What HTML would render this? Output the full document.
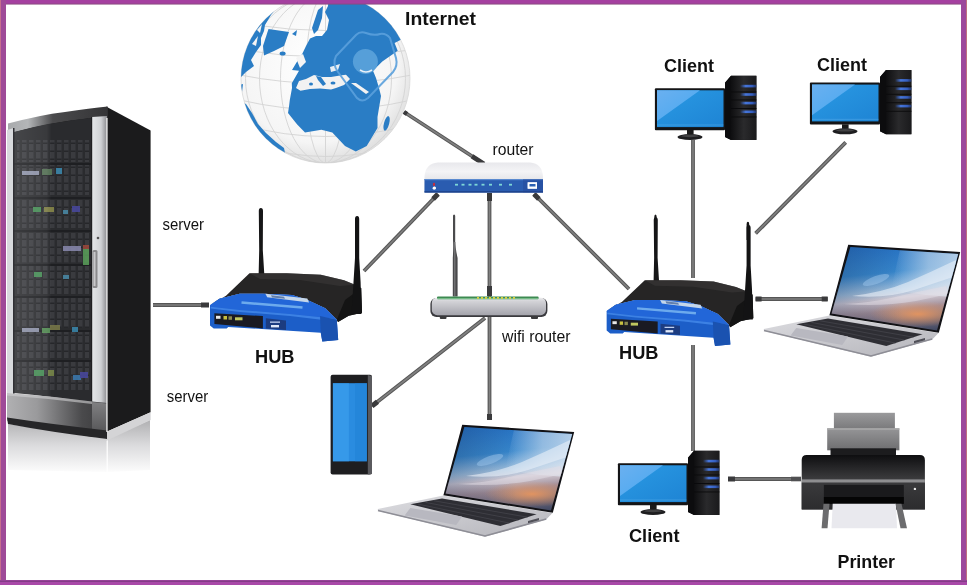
<!DOCTYPE html>
<html><head><meta charset="utf-8"><title>Network</title>
<style>
html,body{margin:0;padding:0;background:#fff;}
body{width:967px;height:585px;overflow:hidden;position:relative;font-family:"Liberation Sans",sans-serif;}
svg{position:absolute;left:0;top:0;display:block;will-change:transform;}
.lbl{font-family:"Liberation Sans",sans-serif;fill:#111;}
.b{font-weight:bold;}
</style></head><body>
<svg width="967" height="585" viewBox="0 0 967 585">
<defs>
  <radialGradient id="gGlobe" cx="0.45" cy="0.4" r="0.6">
    <stop offset="0" stop-color="#ffffff"/><stop offset="0.8" stop-color="#f5f5f5"/><stop offset="1" stop-color="#e0e0e0"/>
  </radialGradient>
  <clipPath id="cGlobe"><circle cx="325.5" cy="78.5" r="84.5"/></clipPath>
  <linearGradient id="gScreen" x1="0" y1="0" x2="1" y2="1">
    <stop offset="0" stop-color="#2a9ae4"/><stop offset="1" stop-color="#1e84d4"/>
  </linearGradient>
  <linearGradient id="gTower" x1="0" y1="0" x2="1" y2="0">
    <stop offset="0" stop-color="#0e0e10"/><stop offset="0.5" stop-color="#2a2a2c"/><stop offset="1" stop-color="#1a1a1c"/>
  </linearGradient>
  <linearGradient id="gSky" x1="0" y1="0" x2="0.15" y2="1">
    <stop offset="0" stop-color="#1f68bf"/><stop offset="0.38" stop-color="#3686cc"/><stop offset="0.56" stop-color="#a0c0de"/><stop offset="0.64" stop-color="#d2ccd6"/><stop offset="0.76" stop-color="#a08c96"/><stop offset="1" stop-color="#3e4660"/>
  </linearGradient>
  <linearGradient id="gDeck" x1="0" y1="0" x2="1" y2="1">
    <stop offset="0" stop-color="#dcdce0"/><stop offset="1" stop-color="#b4b4ba"/>
  </linearGradient>
  <linearGradient id="gBase" x1="0" y1="0" x2="1" y2="0">
    <stop offset="0" stop-color="#b0b0b2"/><stop offset="0.3" stop-color="#9a9a9c"/><stop offset="0.75" stop-color="#4a4a4c"/><stop offset="1" stop-color="#3a3a3c"/>
  </linearGradient>
  <linearGradient id="gRefl" x1="0" y1="0" x2="0" y2="1">
    <stop offset="0" stop-color="#b0b0b2"/><stop offset="0.5" stop-color="#dcdcde"/><stop offset="1" stop-color="#fcfcfc"/>
  </linearGradient>
  <linearGradient id="gSilver" x1="0" y1="0" x2="1" y2="0">
    <stop offset="0" stop-color="#e4e6e8"/><stop offset="0.6" stop-color="#cfd1d4"/><stop offset="1" stop-color="#8a8a8e"/>
  </linearGradient>
  <linearGradient id="gPrinter" x1="0" y1="0" x2="0" y2="1">
    <stop offset="0" stop-color="#1a1a1a"/><stop offset="0.45" stop-color="#3a3a3a"/><stop offset="0.5" stop-color="#9a9a9a"/><stop offset="0.55" stop-color="#2a2a2a"/><stop offset="1" stop-color="#4a4a4a"/>
  </linearGradient>
  <linearGradient id="gTray" x1="0" y1="0" x2="0" y2="1">
    <stop offset="0" stop-color="#8a8a8a"/><stop offset="1" stop-color="#b0b0b0"/>
  </linearGradient>
  <linearGradient id="gWifi" x1="0" y1="0" x2="0" y2="1">
    <stop offset="0" stop-color="#f0f0f2"/><stop offset="0.2" stop-color="#d4d4d8"/><stop offset="1" stop-color="#a4a4ac"/>
  </linearGradient>
  <clipPath id="cScr"><polygon points="464.4,427 572.2,434 551,510.5 445.6,493.5"/></clipPath>
  <radialGradient id="gOrange" cx="0.5" cy="0.5" r="0.5"><stop offset="0" stop-color="#f0985a" stop-opacity="0.85"/><stop offset="1" stop-color="#f0985a" stop-opacity="0"/></radialGradient>
  <linearGradient id="gSkyL" x1="0" y1="0" x2="1" y2="0">
    <stop offset="0" stop-color="#1a2c50" stop-opacity="0.3"/><stop offset="0.55" stop-color="#1a2c50" stop-opacity="0"/>
  </linearGradient>
  <linearGradient id="gCap" x1="0" y1="0" x2="1" y2="0">
    <stop offset="0" stop-color="#a8aaac"/><stop offset="0.2" stop-color="#b4b6b8"/><stop offset="0.45" stop-color="#4a4a4c"/><stop offset="1" stop-color="#343436"/>
  </linearGradient>
  <pattern id="pBays" x="14" y="0" width="7" height="8" patternUnits="userSpaceOnUse">
    <rect x="0" y="0" width="7" height="8" fill="#2a2b2e"/>
    <rect x="1" y="0" width="4.5" height="8" fill="#3a3b3f"/>
    <rect x="1" y="6.5" width="4.5" height="1.5" fill="#26272a"/>
  </pattern>
  <linearGradient id="gTray1" x1="0" y1="0" x2="0" y2="1"><stop offset="0" stop-color="#9a9a9c"/><stop offset="1" stop-color="#7a7a7c"/></linearGradient>
  <linearGradient id="gTray2" x1="0" y1="0" x2="0" y2="1"><stop offset="0" stop-color="#959597"/><stop offset="1" stop-color="#6e6e70"/></linearGradient>
  <linearGradient id="gPrTop" x1="0" y1="0" x2="0" y2="1"><stop offset="0" stop-color="#0e0e10"/><stop offset="0.45" stop-color="#3c3c3e"/><stop offset="1" stop-color="#2e2e30"/></linearGradient>
  <linearGradient id="gPrLow" x1="0" y1="0" x2="0" y2="1"><stop offset="0" stop-color="#3a3a3c"/><stop offset="1" stop-color="#2c2c2e"/></linearGradient>
  <linearGradient id="gScrHi" x1="0" y1="0" x2="1" y2="1"><stop offset="0" stop-color="#6ab0f0"/><stop offset="1" stop-color="#48a8f0"/></linearGradient>
  <linearGradient id="gRouter" x1="0" y1="0" x2="0" y2="1"><stop offset="0" stop-color="#e8e8ec"/><stop offset="0.3" stop-color="#f4f4f6"/><stop offset="0.75" stop-color="#dcdde2"/><stop offset="1" stop-color="#c8d4ea"/></linearGradient>
  <linearGradient id="gGlassRefl" x1="0" y1="0" x2="1" y2="0"><stop offset="0" stop-color="#ffffff" stop-opacity="0.13"/><stop offset="0.42" stop-color="#ffffff" stop-opacity="0.07"/><stop offset="0.48" stop-color="#ffffff" stop-opacity="0"/></linearGradient>
  <filter id="fBlur" x="-20%" y="-20%" width="140%" height="140%"><feGaussianBlur stdDeviation="0.7"/></filter>
  <linearGradient id="gCloudR" x1="0" y1="0" x2="1" y2="0"><stop offset="0" stop-color="#dfe8f2" stop-opacity="0"/><stop offset="0.5" stop-color="#dfe8f2" stop-opacity="0.55"/><stop offset="1" stop-color="#e8eef6" stop-opacity="0.75"/></linearGradient>
  <linearGradient id="gLed" x1="0" y1="0" x2="1" y2="0"><stop offset="0" stop-color="#3a6ee8" stop-opacity="0"/><stop offset="0.35" stop-color="#4a80f0" stop-opacity="0.9"/><stop offset="0.75" stop-color="#3a6ee8" stop-opacity="0.8"/><stop offset="1" stop-color="#2a50b0" stop-opacity="0.5"/></linearGradient>
  <linearGradient id="gBaseR" x1="0" y1="0" x2="0" y2="1"><stop offset="0" stop-color="#808082"/><stop offset="1" stop-color="#505052"/></linearGradient>
</defs>

<!-- ===== SERVER ===== -->
<g id="server">
  <!-- reflection -->
  <polygon points="8,424 107,439 150,420 150,470 107,472 8,470" fill="url(#gRefl)"/>
  <rect x="106.5" y="440" width="1.5" height="32" fill="#ffffff" opacity="0.8"/>
  <!-- side panel -->
  <polygon points="106,106.5 150.6,130.6 150.6,412.3 106,432" fill="#1b1b1c"/>
  <polygon points="106,432 150.6,412.3 150.6,420 106,441" fill="#d4d4d6"/>
  <!-- top cap -->
  <path d="M8,123.6 Q40,115 65,112 Q90,108 107.8,106.4 L107.8,118.2 L91.4,118.5 Q50,123 14.6,132.8 L8,133 Z" fill="url(#gCap)"/>
  <path d="M14.6,132.8 Q50,123 91.4,118.5" stroke="#161618" stroke-width="1.2" fill="none"/>
  <!-- glass -->
  <path d="M14,132 Q50,122 92,118 L92,403 Q50,396 14,393 Z" fill="#2a2b2e"/>
  <!-- equipment rows -->
  <g fill="url(#pBays)">
    <rect x="17" y="140" width="72" height="22"/>
    <rect x="17" y="165" width="72" height="30"/>
    <rect x="17" y="200" width="72" height="28"/>
    <rect x="17" y="233" width="72" height="30"/>
    <rect x="17" y="266" width="72" height="28"/>
    <rect x="17" y="298" width="72" height="30"/>
    <rect x="17" y="332" width="72" height="26"/>
    <rect x="17" y="362" width="72" height="28"/>
  </g>
  <g fill="#1e1f22">
    <rect x="14" y="163" width="78" height="2"/>
    <rect x="14" y="197" width="78" height="2"/>
    <rect x="14" y="230" width="78" height="2"/>
    <rect x="14" y="264" width="78" height="2"/>
    <rect x="14" y="296" width="78" height="2"/>
    <rect x="14" y="330" width="78" height="2"/>
    <rect x="14" y="360" width="78" height="2"/>
  </g>
  <g filter="url(#fBlur)" opacity="0.85">
    <rect x="22" y="171" width="17" height="4" fill="#9aa0b8"/>
    <rect x="42" y="169" width="10" height="6" fill="#5a7a5a"/>
    <rect x="56" y="168" width="6" height="6" fill="#3a8ab0"/>
    <rect x="33" y="207" width="8" height="5" fill="#4a9a5a"/>
    <rect x="44" y="207" width="10" height="5" fill="#8a8a4a"/>
    <rect x="72" y="206" width="8" height="6" fill="#4a4aa0"/>
    <rect x="63" y="210" width="5" height="4" fill="#4a8aa8"/>
    <rect x="63" y="246" width="18" height="5" fill="#8a8ab0"/>
    <rect x="83" y="249" width="6" height="16" fill="#5aa05a"/>
    <rect x="83" y="245" width="6" height="4" fill="#a04a3a"/>
    <rect x="34" y="272" width="8" height="5" fill="#4a9a5a"/>
    <rect x="63" y="275" width="6" height="4" fill="#4a8aa8"/>
    <rect x="22" y="328" width="17" height="4" fill="#9aa0b8"/>
    <rect x="42" y="328" width="8" height="5" fill="#5a9a5a"/>
    <rect x="50" y="325" width="10" height="5" fill="#7a7a4a"/>
    <rect x="72" y="327" width="6" height="5" fill="#3a8ab0"/>
    <rect x="34" y="370" width="10" height="6" fill="#4a9a5a"/>
    <rect x="48" y="370" width="6" height="6" fill="#7a8a4a"/>
    <rect x="73" y="375" width="8" height="5" fill="#3a7ab0"/>
    <rect x="80" y="372" width="8" height="6" fill="#4a4aa0"/>
  </g>
  <path d="M14,132 Q50,122 92,118 L92,403 Q50,396 14,393 Z" fill="url(#gGlassRefl)"/>
  <!-- left silver strip -->
  <path d="M7,130 L14,128 L14,393 L7,393 Z" fill="#d8dadd"/>
  <rect x="13" y="128" width="1.5" height="266" fill="#303035"/>
  <!-- right silver strip -->
  <path d="M92,117 L107,116 L107,403 L92,403 Z" fill="url(#gSilver)"/>
  <rect x="91" y="117" width="1.2" height="286" fill="#202022"/>
  <!-- handle -->
  <rect x="92.5" y="250" width="5" height="38" rx="1.5" fill="#8a8a8c"/>
  <rect x="93.5" y="252" width="2" height="34" fill="#c8c8ca"/>
  <circle cx="98" cy="238" r="1.3" fill="#555"/>
  <!-- base -->
  <path d="M7,393 Q50,396 92,401.5 L107,403 L107,437 L92,437 Q50,428 7,421 Z" fill="url(#gBase)"/>
  <path d="M7,393 Q50,396 92,401.5 L92,404 Q50,398.5 7,395.5 Z" fill="#d0d0d2" opacity="0.6"/>
  <path d="M92,402 L107,403.5 L107,437 L92,437 Z" fill="url(#gBaseR)"/>
  <path d="M7,417.5 Q50,424 107,430.5 L107,439 Q50,432 8,424 Z" fill="#262628"/>
  <rect x="106.3" y="118" width="1.3" height="314" fill="#f4f4f4"/>
</g>

<!-- ===== GLOBE ===== -->
<g id="globe">
  <circle cx="325.5" cy="78.5" r="84.5" fill="url(#gGlobe)" stroke="#d8d8d8" stroke-width="0.8"/>
  <g clip-path="url(#cGlobe)">
    <!-- grid -->
    <g stroke="#d4d4d4" stroke-width="0.9" fill="none">
      <ellipse cx="325.5" cy="78.5" rx="20" ry="84.5"/>
      <ellipse cx="325.5" cy="78.5" rx="45" ry="84.5"/>
      <ellipse cx="325.5" cy="78.5" rx="66" ry="84.5"/>
      <ellipse cx="325.5" cy="78.5" rx="80" ry="84.5"/>
      <line x1="325.5" y1="-10" x2="325.5" y2="170"/>
      <path d="M240,100 Q325,120 412,100"/>
      <path d="M243,125 Q325,148 410,125"/>
      <path d="M255,145 Q325,168 398,145"/>
      <path d="M240,75 Q325,92 412,75"/>
      <path d="M243,50 Q325,64 410,50"/>
      <path d="M255,25 Q325,36 398,25"/>
    </g>
    <g fill="#2a7dc5">
      <!-- north america limb -->
      <path d="M220,82 L241,77 L246,72 L254,66 L251,60 L256,52 L261,45 L261,38 L264,31 L265,25 L271,15 L280,4 L220,0 Z"/>
      <path d="M236,86 L243,84 L241,100 L236,100 Z"/>
      <!-- greenland -->
      <path d="M268.5,29 L289,32 L284,46 L274,51 L264,55.5 L263,46 Z"/>
      <ellipse cx="282.6" cy="53.5" rx="3" ry="2"/>
      <path d="M292,34 L297,30 L296,36 Z"/>
      <!-- eurasia + africa -->
      <path d="M329,-10 L328,6 L325,12 L329,20 L327,30 L322,36 L316,36 L310,38.5 L306,46 L302.3,53.8 L296.2,63 L292,70 L299,70.8 L291.8,83.3 L292,88 L289.8,100 L289,106.6 L288,113 L297.2,124.6 L305,132.4 L321.4,129.7 L332.3,132.4 L345,146 L355.8,151.4 L366.7,146 L377.5,128 L377.5,117 L381,96 L379,88 L376,78 L373,70.8 L382.3,61.5 L397.7,50.8 L394.6,43 L420,30 L420,-10 Z"/>
      <path d="M318,10 L323,6 L322,18 L318,30 L314,34 L312,28 Z"/>
      <!-- south america limb -->
      <path d="M236,100 L246,104 L252,113 L258,124 L266,133 L276,142 L284,148 L286,158 L268,156 L250,142 L236,124 Z"/>
      <ellipse cx="386.6" cy="123.4" rx="2.6" ry="7.5" transform="rotate(15 386.6 123.4)"/>
    </g>
    <path d="M252,44 L258,36 L256,46 Z" fill="#f4f4f4"/>
    <path d="M257,30 L262,24 L260,33 Z" fill="#f4f4f4"/>
    <!-- atlantic white gaps in europe -->
    <path d="M296,58 L303,54 L306,62 L300,68 Z" fill="#f4f4f4"/>
    <!-- mediterranean -->
    <path d="M299,81 L306,79 L314,75 L322,77 L331,77 L340,75.5 L346,74.8 L350,79 L344,85 L336,88 L331,89.6 L320,88.4 L310,89 L300.5,90.7 L296,88 Z" fill="#f2f2f2"/>
    <path d="M316,76 L321,77 L326,84 L323,86 L318,80 Z" fill="#2a7dc5"/>
    <ellipse cx="311" cy="84" rx="2" ry="1.5" fill="#2a7dc5"/>
    <ellipse cx="333" cy="83" rx="2.5" ry="1.5" fill="#2a7dc5"/>
    <path d="M351,83 L356,83 L369,92 L366,94 Z" fill="#f2f2f2"/>
    <path d="M330,67 L340,64 L338,70 L331,72 Z" fill="#e8eef4"/>
    <!-- badge -->
    <g fill="none" stroke="#5aa0dc" stroke-width="2" opacity="0.9">
      <path d="M336,56 L356,35 Q360,31 366,33 Q374,36 380,34 Q386,33 390,38 L396,58 Q398,66 393,72 L368,98 Q362,103 357,98 L338,72 Q332,64 336,56 Z"/>
    </g>
    <circle cx="365.4" cy="61.5" r="12.5" fill="#5ea4dc" opacity="0.85"/>
    <path d="M360,70 Q366,74 372,70" stroke="#e8f0f8" stroke-width="1.6" fill="none"/>
  </g>
</g>

<!-- ===== CABLES ===== -->
<g fill="none" stroke-linecap="butt">
  <line x1="404" y1="112" x2="484" y2="164" stroke="#565656" stroke-width="3.8"/>
  <line x1="404" y1="112" x2="484" y2="164" stroke="#808080" stroke-width="1.6"/>
  <line x1="438" y1="194" x2="364" y2="271" stroke="#565656" stroke-width="3.8"/>
  <line x1="438" y1="194" x2="364" y2="271" stroke="#808080" stroke-width="1.6"/>
  <line x1="489.5" y1="193" x2="489.5" y2="420" stroke="#565656" stroke-width="3.8"/>
  <line x1="489.5" y1="193" x2="489.5" y2="420" stroke="#808080" stroke-width="1.6"/>
  <line x1="534" y1="194" x2="629" y2="289" stroke="#565656" stroke-width="3.8"/>
  <line x1="534" y1="194" x2="629" y2="289" stroke="#808080" stroke-width="1.6"/>
  <line x1="485" y1="318" x2="372" y2="406" stroke="#565656" stroke-width="3.8"/>
  <line x1="485" y1="318" x2="372" y2="406" stroke="#808080" stroke-width="1.6"/>
  <line x1="153" y1="305" x2="209" y2="305" stroke="#565656" stroke-width="3.8"/>
  <line x1="153" y1="305" x2="209" y2="305" stroke="#808080" stroke-width="1.6"/>
  <line x1="693" y1="140" x2="693" y2="278" stroke="#565656" stroke-width="3.8"/>
  <line x1="693" y1="140" x2="693" y2="278" stroke="#808080" stroke-width="1.6"/>
  <line x1="693" y1="345" x2="693" y2="451" stroke="#565656" stroke-width="3.8"/>
  <line x1="693" y1="345" x2="693" y2="451" stroke="#808080" stroke-width="1.6"/>
  <line x1="845.7" y1="142.4" x2="755.6" y2="233.4" stroke="#565656" stroke-width="3.8"/>
  <line x1="845.7" y1="142.4" x2="755.6" y2="233.4" stroke="#808080" stroke-width="1.6"/>
  <line x1="755.6" y1="299" x2="827.7" y2="299" stroke="#565656" stroke-width="3.8"/>
  <line x1="755.6" y1="299" x2="827.7" y2="299" stroke="#808080" stroke-width="1.6"/>
  <line x1="728" y1="479" x2="801" y2="479" stroke="#565656" stroke-width="3.8"/>
  <line x1="728" y1="479" x2="801" y2="479" stroke="#808080" stroke-width="1.6"/>
  <line x1="484" y1="164" x2="472" y2="156.2" stroke="#3a3a3c" stroke-width="4.6"/>
  <line x1="404" y1="112" x2="407" y2="114" stroke="#3a3a3c" stroke-width="4.4"/>
  <line x1="438" y1="194" x2="433.1" y2="199.0" stroke="#3a3a3c" stroke-width="5"/>
  <line x1="489.5" y1="193" x2="489.5" y2="201.0" stroke="#3a3a3c" stroke-width="5"/>
  <line x1="534" y1="194" x2="538.9" y2="198.9" stroke="#3a3a3c" stroke-width="5"/>
  <line x1="489.5" y1="296" x2="489.5" y2="286.0" stroke="#3a3a3c" stroke-width="5"/>
  <line x1="209" y1="305" x2="201.0" y2="305.0" stroke="#3a3a3c" stroke-width="5"/>
  <line x1="489.5" y1="420" x2="489.5" y2="414.0" stroke="#3a3a3c" stroke-width="5"/>
  <line x1="372" y1="406" x2="377.5" y2="401.7" stroke="#3a3a3c" stroke-width="5"/>
  <line x1="755.6" y1="299" x2="761.6" y2="299.0" stroke="#3a3a3c" stroke-width="5"/>
  <line x1="827.7" y1="299" x2="821.7" y2="299.0" stroke="#3a3a3c" stroke-width="5"/>
  <line x1="728" y1="479" x2="735.0" y2="479.0" stroke="#3a3a3c" stroke-width="5"/>
  <line x1="801" y1="479" x2="791" y2="479" stroke="#505052" stroke-width="4.6"/>
</g>

<!-- ===== HUBS ===== -->
<g id="hub">
  <!-- left antenna -->
  <path d="M258.6,276 L259.2,250 L258.8,211 Q258.8,208 260.9,208 Q263,208 263,211 L262.8,250 L264.4,276 Z" fill="#161617"/>
  <!-- black body -->
  <path d="M210,305 L226,295.7 L249.5,273.2 L286.7,273.2 L320.8,274.7 L344,280.2 L355,284.8 L361.2,288 L362,312.7 L348.7,315.8 L338,322 L336.8,319.7 L325.2,308.2 L306.3,299.5 L291.9,295.1 L262.9,293.7 L239.7,293.7 L219.5,298.8 Z" fill="#262525"/>
  <path d="M249.5,273.2 L286.7,273.2 L320.8,274.7 L344,280.2 L355,284.8 L340,286 L300,280 L260,279 Z" fill="#3a3838" opacity="0.6"/>
  <path d="M338,322 L348.7,315.8 L362,312.7 L361.2,288 L345,300 L336.8,319.7 Z" fill="#141414"/>
  <!-- right antenna -->
  <path d="M351.5,314 L353.5,282 L355,258 L355,219 Q355,216 357.1,216 Q359.2,216 359.2,219 L359.2,258 L360.6,282 L361.5,314 Z" fill="#131314"/>
  <!-- blue front -->
  <path d="M210,305.3 L219.5,298.8 L239.7,293.7 L262.9,293.7 L291.9,295.1 L306.3,299.5 L325.2,308.2 L331,314 L336.8,319.7 L338.2,340 L322.3,341.5 L320.8,332.8 L228.2,327 L226.7,328.4 L213.7,328.4 L210,325.5 Z" fill="#1c5ec8"/>
  <!-- upper slanted face shade -->
  <path d="M210,305.3 L219.5,298.8 L239.7,293.7 L262.9,293.7 L291.9,295.1 L306.3,299.5 L325.2,308.2 L331,314 L336.8,319.7 L331,318.3 L290,314 L240,310 L210.8,306.7 Z" fill="#2266d8"/>
  <path d="M210.8,306.7 L240,310 L290,314 L331,318.3 L336.8,319.7 L336,321.5 L290,316 L240,312 L210.5,308.5 Z" fill="#4a90f0" opacity="0.7"/>
  <!-- right lower shade -->
  <path d="M320,316 L336.8,319.7 L338.2,340 L322.3,341.5 L320.8,332.8 Z" fill="#1a52b0"/>
  <!-- badge & logo -->
  <polygon points="265.4,293.8 307.3,298.6 309.1,302.5 267.2,297.3" fill="#c4d6ea"/>
  <polygon points="271,295.2 284,296.7 285,298.8 272,297.4" fill="#3a5a90" opacity="0.7"/>
  <path d="M241.5,302.5 L302.5,307.5" stroke="#80bcf2" stroke-width="2.4" fill="none" opacity="0.8"/>
  <!-- led panel -->
  <polygon points="214.4,313.2 262.9,316.1 262.9,328.4 214.4,324.1" fill="#1a1a22"/>
  <rect x="216" y="315.8" width="4.5" height="3" fill="#e8e8e8"/>
  <rect x="223.5" y="316" width="3.5" height="3.5" fill="#c8c040"/>
  <rect x="228.5" y="316.3" width="3.5" height="3.5" fill="#8a8a50"/>
  <rect x="235" y="317.3" width="7.5" height="3" fill="#c0c860"/>
  <polygon points="265.8,318.3 286,320.5 286,330 265.8,328.4" fill="#1c3c80"/>
  <rect x="270" y="321.5" width="10" height="1.3" fill="#c0d0f0"/>
  <rect x="271" y="325" width="8" height="2.4" fill="#e0e8f8"/>
</g>
<use href="#hub" transform="translate(404,16.5) scale(0.965)"/>
<path d="M654.3,232 L654.3,217 Q654.3,214.5 655.5,214.5 Q656.7,214.5 656.7,217 L656.7,232 Z" fill="#161617"/>
<path d="M746.6,240 L746.6,224 Q746.6,221.8 747.9,221.8 Q749.2,221.8 749.2,224 L749.2,240 Z" fill="#131314"/>

<!-- ===== CLIENTS ===== -->
<g id="client">
  <!-- monitor -->
  <rect x="654.9" y="88.3" width="70.1" height="42" rx="1" fill="#141416"/>
  <rect x="657" y="90.3" width="66.5" height="36.8" fill="url(#gScreen)"/>
  <polygon points="657,90.3 700,90.3 657,121" fill="url(#gScrHi)"/>
  <rect x="657" y="124.5" width="66.5" height="1" fill="#5ab0ee" opacity="0.5"/>
  <rect x="687" y="130" width="6.6" height="4.5" fill="#1a1a1a"/>
  <ellipse cx="690" cy="137" rx="12.5" ry="3" fill="#1e1e20"/>
  <ellipse cx="690" cy="136" rx="9" ry="1.2" fill="#5a5a5c" opacity="0.6"/>
  <!-- tower -->
  <polygon points="725,82.8 731,75.8 756.4,75.8 756.4,139.9 731,139.9 725,137" fill="#1a1a1c"/>
  <rect x="731" y="75.8" width="25.4" height="64.1" fill="url(#gTower)"/>
  <polygon points="725,82.8 731,75.8 731,139.9 725,137" fill="#0c0c0e"/>
  <g fill="#0a0a0c">
    <rect x="731" y="91.5" width="25.4" height="0.9"/>
    <rect x="731" y="99.5" width="25.4" height="0.9"/>
    <rect x="731" y="108" width="25.4" height="0.9"/>
    <rect x="731" y="116.5" width="25.4" height="0.9"/>
  </g>
  <g fill="url(#gLed)">
    <rect x="740" y="84.8" width="16.4" height="2.6"/>
    <rect x="740" y="93.2" width="16.4" height="2.6"/>
    <rect x="740" y="101.8" width="16.4" height="2.6"/>
    <rect x="740" y="110.5" width="16.4" height="2.6"/>
  </g>
</g>
<use href="#client" transform="translate(155,-5.7)"/>
<use href="#client" transform="translate(-37,375)"/>

<!-- ===== LAPTOPS ===== -->
<g id="laptop">
  <!-- deck -->
  <polygon points="377.8,508.9 443.4,495.5 552.5,513 546.2,519.4 485,536.7 378,511" fill="url(#gDeck)"/>
  <polyline points="378,510.5 485,536 546.2,519" fill="none" stroke="#8e8e96" stroke-width="1.6"/>
  <!-- keyboard -->
  <polygon points="442,498.6 536.6,514.2 500.3,526.1 410.3,504.3" fill="#2e2e34"/>
  <g stroke="#48484f" stroke-width="0.7" fill="none">
    <path d="M433.5,500.7 L527.5,517.2"/><path d="M425.5,502.4 L518.5,520.1"/><path d="M417.5,504 L509.5,523.1"/>
  </g>
  <!-- touchpad -->
  <polygon points="410.3,508 462,516.6 456.3,525 404.6,515.6" fill="#b8b8c0"/>
  <polygon points="528,521 539,518 539,520.3 528,523.3" fill="#505058"/>
  <!-- screen -->
  <polygon points="462.2,424.8 574.2,432 552.8,512.8 443.4,495.2" fill="#121216"/>
  <g clip-path="url(#cScr)">
    <rect x="440" y="420" width="140" height="100" fill="url(#gSky)"/>
    <polygon points="515,425 580,425 580,478 540,475 505,470" fill="url(#gCloudR)"/>
    <ellipse cx="532" cy="494" rx="48" ry="13" fill="url(#gOrange)"/>
    <rect x="440" y="420" width="140" height="100" fill="url(#gSkyL)"/>
    <path d="M570,440 Q545,452 522,462 Q498,472 466,476 Q500,479 528,470 Q552,462 570,456 Z" fill="#eaf0f8" opacity="0.6"/>
    <path d="M560,466 Q530,472 505,478 Q482,483 458,484 Q495,487 530,481 Q550,477 562,474 Z" fill="#e4dee6" opacity="0.5"/>
    <ellipse cx="490" cy="460" rx="14" ry="4" transform="rotate(-20 490 460)" fill="#9cc4ea" opacity="0.5"/>
  </g>
</g>
<use href="#laptop" transform="translate(386,-180)"/>

<!-- ===== PRINTER ===== -->
<g id="printer">
  <rect x="833.9" y="412.8" width="61" height="16" fill="url(#gTray1)"/>
  <rect x="827.2" y="428.3" width="72.2" height="22" fill="url(#gTray2)"/>
  <rect x="827.2" y="428.3" width="72.2" height="1.5" fill="#a8a8aa"/>
  <rect x="830.5" y="448.3" width="65.5" height="7" fill="#1c1c1e"/>
  <path d="M801.7,509.4 L801.7,460 Q801.7,455 806.7,455 L919.9,455 Q924.9,455 924.9,460 L924.9,509.4 Z" fill="url(#gPrTop)"/>
  <rect x="801.7" y="479.4" width="123.2" height="3.3" fill="#8e8e90"/>
  <rect x="801.7" y="482.7" width="123.2" height="26.7" fill="url(#gPrLow)"/>
  <rect x="823.9" y="484.9" width="79.9" height="18.9" fill="#1a1a1c"/>
  <rect x="823.9" y="497" width="79.9" height="6.8" fill="#050505"/>
  <circle cx="914.9" cy="488.9" r="1.2" fill="#e8e8e8"/>
  <polygon points="832.7,503.8 896,503.8 897,528.2 831.5,528.2" fill="#e9e9ee"/>
  <polygon points="823.5,503.8 829.5,503.8 827.5,528.2 821.6,528.2" fill="#6c6c6e"/>
  <polygon points="895.5,503.8 901.5,503.8 907,528.2 900.5,528.2" fill="#6c6c6e"/>
</g>

<!-- ===== ROUTER ===== -->
<g id="router">
  <path d="M424.5,192.6 L424.5,177 Q425,163.5 438,162.4 L530,162.4 Q542.5,163.5 543,177 L543,192.6 Z" fill="url(#gRouter)"/>
  <rect x="424.5" y="179" width="118.5" height="13.4" fill="#2a5cb0"/>
  <rect x="424.5" y="179" width="118.5" height="1.2" fill="#5a8ad0"/>
  <rect x="424.5" y="191.2" width="118.5" height="1.4" fill="#1c4088"/>
  <rect x="523" y="179" width="20" height="13.4" fill="#22408e" opacity="0.35"/>
  <g fill="#7cd6d6">
    <rect x="455" y="183.8" width="3" height="1.8"/><rect x="461.5" y="183.8" width="3" height="1.8"/>
    <rect x="468.5" y="183.8" width="3" height="1.8"/><rect x="474.5" y="183.8" width="3" height="1.8"/>
    <rect x="481.5" y="183.8" width="3" height="1.8"/><rect x="489" y="183.8" width="3" height="1.8"/>
    <rect x="499" y="183.8" width="3" height="1.8"/><rect x="509" y="183.8" width="3" height="1.8"/>
  </g>
  <circle cx="434" cy="185" r="1.1" fill="#c03040"/>
  <circle cx="434" cy="188.2" r="1.4" fill="#e8f0ff"/>
  <rect x="527.5" y="182.3" width="9.5" height="6.4" fill="#ffffff"/>
  <rect x="528.8" y="184.5" width="7" height="2.6" fill="#1e3a80"/>
</g>
  <circle cx="434" cy="184" r="1.2" fill="#c03040"/>
  <circle cx="434.5" cy="188" r="1.5" fill="#ffffff"/>
  <rect x="528" y="182.5" width="9" height="6" fill="#ffffff"/>
  <rect x="529.5" y="184" width="6" height="2.5" fill="#2d62b4"/>
</g>

<!-- ===== WIFI ROUTER ===== -->
<g id="wifi">
  <path d="M452.8,296.5 L452.8,258 Q453.5,246 453,240 L453,216 Q453,214.5 454.1,214.5 Q455.2,214.5 455.2,216 L455.2,240 Q455,246 457.6,258 L457.6,296.5 Z" fill="#4a4a4c"/>
  <rect x="454.2" y="242" width="1.2" height="54" fill="#7a7a7c"/>
  <rect x="430.4" y="298" width="117" height="19" rx="6" fill="#3a3a3e"/>
  <rect x="431.8" y="297.4" width="114.2" height="17.8" rx="5.5" fill="url(#gWifi)"/>
  <rect x="437" y="296.6" width="101.6" height="2.6" rx="1" fill="#3e8a52"/>
  <rect x="437" y="298.2" width="101.6" height="1" fill="#a0e0b0" opacity="0.7"/>
  <g fill="#d8d040">
    <rect x="477" y="297" width="2" height="1.8"/><rect x="481" y="297" width="2" height="1.8"/>
    <rect x="485" y="297" width="2" height="1.8"/><rect x="489" y="297" width="2" height="1.8"/>
    <rect x="493" y="297" width="2" height="1.8"/><rect x="497" y="297" width="2" height="1.8"/>
    <rect x="501" y="297" width="2" height="1.8"/><rect x="505" y="297" width="2" height="1.8"/>
    <rect x="509" y="297" width="2" height="1.8"/><rect x="513" y="297" width="2" height="1.8"/>
  </g>
  <rect x="439.8" y="316" width="6.7" height="3" rx="1" fill="#3a3a3c"/>
  <rect x="531" y="316" width="7" height="3" rx="1" fill="#3a3a3c"/>
</g>

<!-- ===== PHONE ===== -->
<g id="phone">
  <rect x="330.6" y="374.7" width="41.4" height="99.8" rx="2" fill="#1e1e20"/>
  <polygon points="367.8,375 372,376 372,474 367.8,474.5" fill="#5a5a5e"/>
  <rect x="332.9" y="383.2" width="34" height="78.1" fill="#2a8ce0"/>
  <rect x="332.9" y="383.2" width="16" height="78.1" fill="#3c9eec" opacity="0.7"/>
  <rect x="355" y="383.2" width="11.9" height="78.1" fill="#2282d6" opacity="0.6"/>
</g>

<!-- ===== BORDER ===== -->
<rect x="0" y="0" width="967" height="4" fill="#a540a0"/>
<rect x="0" y="3.5" width="967" height="1.2" fill="#8a4c80" opacity="0.8"/>
<rect x="0" y="0" width="6" height="585" fill="#9f4a98"/>
<rect x="0" y="0" width="1" height="585" fill="#c66e8e"/>
<rect x="961" y="0" width="6" height="585" fill="#9c489c"/>
<rect x="966" y="0" width="1" height="585" fill="#c07080"/>
<rect x="0" y="580" width="967" height="5" fill="#a848a8"/>
<rect x="0" y="580.5" width="967" height="1.5" fill="#843c88"/>

<!-- ===== TEXT ===== -->
<text class="lbl b" x="405" y="24.5" font-size="18" textLength="71" lengthAdjust="spacingAndGlyphs">Internet</text>
<text class="lbl b" x="664" y="72.3" font-size="18" textLength="50" lengthAdjust="spacingAndGlyphs">Client</text>
<text class="lbl b" x="817" y="71" font-size="18" textLength="50" lengthAdjust="spacingAndGlyphs">Client</text>
<text class="lbl b" x="629" y="542.2" font-size="18" textLength="50.5" lengthAdjust="spacingAndGlyphs">Client</text>
<text class="lbl b" x="837.5" y="567.7" font-size="18" textLength="57.5" lengthAdjust="spacingAndGlyphs">Printer</text>
<text class="lbl b" x="255" y="362.7" font-size="18" textLength="39.5" lengthAdjust="spacingAndGlyphs">HUB</text>
<text class="lbl b" x="619" y="359" font-size="18" textLength="39.5" lengthAdjust="spacingAndGlyphs">HUB</text>
<text class="lbl" x="162.5" y="229.7" font-size="16" textLength="41.5" lengthAdjust="spacingAndGlyphs">server</text>
<text class="lbl" x="166.8" y="401.7" font-size="16" textLength="41.5" lengthAdjust="spacingAndGlyphs">server</text>
<text class="lbl" x="492.5" y="154.6" font-size="16" textLength="41" lengthAdjust="spacingAndGlyphs">router</text>
<text class="lbl" x="502" y="342" font-size="16" textLength="68.5" lengthAdjust="spacingAndGlyphs">wifi router</text>
</svg>
</body></html>
